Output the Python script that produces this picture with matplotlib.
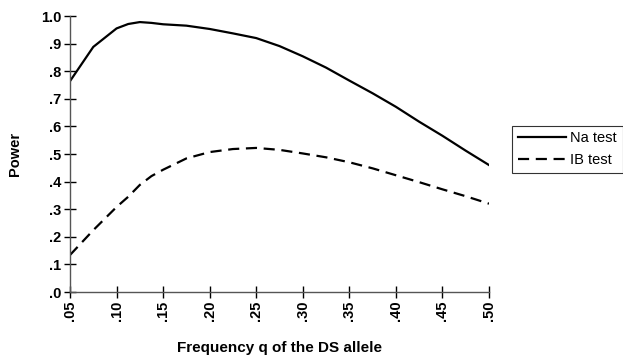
import matplotlib.pyplot as plt
from matplotlib.ticker import FuncFormatter

plt.rcParams['font.family'] = ['Liberation Sans', 'DejaVu Sans']

q = [0.05, 0.075, 0.10, 0.1125, 0.125, 0.1375, 0.15, 0.175, 0.20, 0.225, 0.25, 0.275,
     0.30, 0.325, 0.35, 0.375, 0.40, 0.425, 0.45, 0.475, 0.50]
na_test = [0.764, 0.888, 0.955, 0.971, 0.978, 0.975, 0.970, 0.965, 0.953, 0.937, 0.920, 0.891,
           0.854, 0.813, 0.766, 0.720, 0.671, 0.617, 0.566, 0.512, 0.460]
ib_test = [0.134, 0.224, 0.308, 0.345, 0.388, 0.420, 0.443, 0.484, 0.507, 0.518, 0.522, 0.515,
           0.502, 0.488, 0.470, 0.448, 0.423, 0.398, 0.372, 0.347, 0.320]

x_ticks = [0.05, 0.10, 0.15, 0.20, 0.25, 0.30, 0.35, 0.40, 0.45, 0.50]
y_ticks = [0.0, 0.1, 0.2, 0.3, 0.4, 0.5, 0.6, 0.7, 0.8, 0.9, 1.0]


def y_fmt(v, pos):
    if abs(v - 1.0) < 1e-9:
        return '1.0'
    return ('%.1f' % v)[1:]


def x_fmt(v, pos):
    return ('%.2f' % v)[1:]


fig = plt.figure(figsize=(6.23, 3.6), dpi=100)
ax = fig.add_axes([70 / 623, 1 - 292 / 360, 419 / 623, 276 / 360])

ax.plot(q, na_test, color='black', lw=1.6, label='Na test')
ax.plot(q, ib_test, color='black', lw=1.6, ls=(0, (5, 3)), label='IB test')

ax.set_xlim(0.05, 0.50)
ax.set_ylim(0, 1.0)
ax.set_xticks(x_ticks)
ax.set_yticks(y_ticks)
ax.xaxis.set_major_formatter(FuncFormatter(x_fmt))
ax.yaxis.set_major_formatter(FuncFormatter(y_fmt))

for s in ['top', 'right']:
    ax.spines[s].set_visible(False)
for s in ['left', 'bottom']:
    ax.spines[s].set_color('#555555')
    ax.spines[s].set_linewidth(1.0)

ax.tick_params(direction='inout', length=8.5, width=1.0, color='black',
               labelsize=10.5)
ax.tick_params(axis='x', labelrotation=90, pad=2)
ax.tick_params(axis='y', pad=2)
for lab in ax.get_xticklabels() + ax.get_yticklabels():
    lab.set_fontweight('bold')

ax.set_xlabel('Frequency q of the DS allele', fontsize=11, fontweight='bold',
              labelpad=14)
ax.set_ylabel('Power', fontsize=10.5, fontweight='bold', labelpad=14)

leg = ax.legend(loc='center left', bbox_to_anchor=(1.055, 0.518), frameon=True,
                fancybox=False, edgecolor='black', fontsize=10.5,
                handlelength=3.3, borderpad=0.4, labelspacing=0.5,
                handletextpad=0.3, borderaxespad=0)
leg.get_frame().set_linewidth(0.8)

fig.savefig('out.png', dpi=100)
